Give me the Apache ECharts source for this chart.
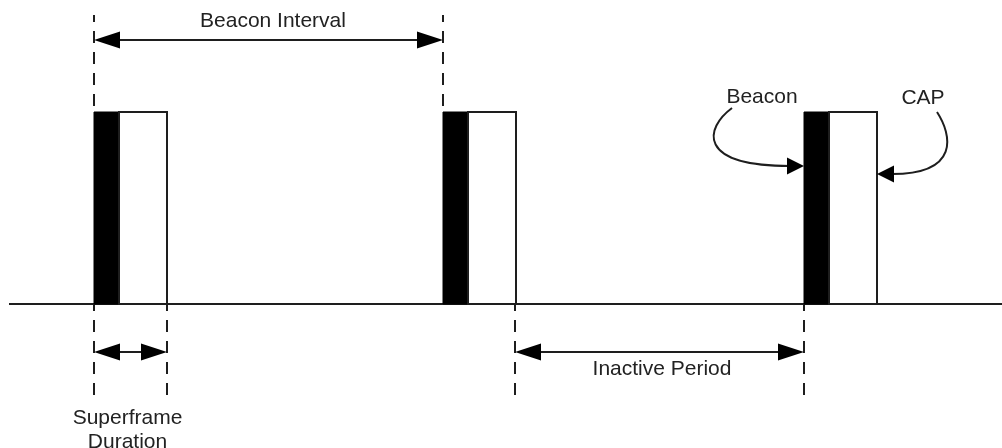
<!DOCTYPE html>
<html><head><meta charset="utf-8">
<script src="https://cdn.jsdelivr.net/npm/echarts@6/dist/echarts.min.js"></script>
<style>html,body{margin:0;padding:0;background:#fff}#c{width:1002px;height:448px}</style>
</head><body><div id="c"></div>
<script>
// Superframe timing (time units) — start of each beacon, beacon slot and superframe length
const superframeStarts = [0, 349, 710];
const beaconLength = 25;
const superframeLength = 73;
// Timeline (baseline) extent
const baselineExtent = [-85, 908];
// Dimension arrows: [from, to, level]
const dimensionArrows = [[0, 349, 1.375], [0, 73, -0.25], [421, 710, -0.25]];
// Dashed guide lines: [time, fromLevel, toLevel]
const guideLines = [[0, 1.505, 1], [349, 1.505, 1], [0, 0, -0.5], [73, 0, -0.5], [421, 0, -0.5], [710, 0, -0.5]];
// Annotation texts and their anchor [time, level]
const labelTexts = ['Beacon Interval', 'Inactive Period', 'Superframe', 'Duration'];
const labelAnchors = [[179, 1.474], [568, -0.339], [33.5, -0.594], [33.5, -0.719]];
// Callouts: text, text anchor [time, level], target [time, level]
const calloutTexts = ['Beacon', 'CAP'];
const calloutAnchors = [[668, 1.078, 710, 0.719], [829, 1.073, 783, 0.677]];

const INK = '#1e1e1e';
const FONT = '21px "Liberation Sans", Arial, sans-serif';

const chart = echarts.init(document.getElementById('c'), null, {renderer: 'canvas'});

function baseline(params, api) {
  const p1 = api.coord([api.value(0), 0]);
  const p2 = api.coord([api.value(1), 0]);
  return {type: 'line', shape: {x1: p1[0], y1: p1[1], x2: p2[0], y2: p2[1]}, style: {stroke: INK, lineWidth: 2}};
}

function blocks(params, api) {
  const s = api.value(0);
  const a = api.coord([s, 1]);
  const b = api.coord([s + beaconLength, 0]);
  const c = api.coord([s + superframeLength, 0]);
  return {type: 'group', children: [
    {type: 'rect', shape: {x: a[0], y: a[1], width: b[0] - a[0], height: b[1] - a[1]}, style: {fill: '#000', stroke: '#000', lineWidth: 1}},
    {type: 'rect', shape: {x: b[0], y: a[1], width: c[0] - b[0], height: c[1] - a[1]}, style: {fill: '#fff', stroke: INK, lineWidth: 2}}
  ]};
}

function arrowHead(tip, dir, len, half) {
  // dir: +1 pointing right, -1 pointing left
  return {type: 'polygon', shape: {points: [[tip[0], tip[1]], [tip[0] - dir * len, tip[1] - half], [tip[0] - dir * len, tip[1] + half]]}, style: {fill: '#000'}};
}

function dimension(params, api) {
  const p1 = api.coord([api.value(0), api.value(2)]);
  const p2 = api.coord([api.value(1), api.value(2)]);
  return {type: 'group', children: [
    {type: 'line', shape: {x1: p1[0] + 10, y1: p1[1], x2: p2[0] - 10, y2: p2[1]}, style: {stroke: INK, lineWidth: 2}},
    arrowHead(p1, -1, 26, 8.5),
    arrowHead(p2, 1, 26, 8.5)
  ]};
}

function guides(params, api) {
  const p1 = api.coord([api.value(0), api.value(1)]);
  const p2 = api.coord([api.value(0), api.value(2)]);
  return {type: 'line', shape: {x1: p1[0], y1: p1[1], x2: p2[0], y2: p2[1]}, style: {stroke: INK, lineWidth: 2, lineDash: [12, 9], lineDashOffset: 5}};
}

function labels(params, api) {
  const p = api.coord([api.value(0), api.value(1)]);
  return {type: 'text', x: p[0], y: p[1], style: {text: labelTexts[params.dataIndex], font: FONT, fill: '#222', align: 'center', verticalAlign: 'middle'}};
}

function callouts(params, api) {
  const L = api.coord([api.value(0), api.value(1)]);
  const T = api.coord([api.value(2), api.value(3)]);
  let p0, p1, p2, p3, dir;
  if (params.dataIndex === 0) {
    p0 = [L[0] - 30, L[1] + 11]; p1 = [p0[0] - 27, p0[1] + 20];
    p3 = [T[0] - 16, T[1]]; p2 = [p3[0] - 92, p3[1]]; dir = 1;
  } else {
    p0 = [L[0] + 14, L[1] + 14]; p1 = [p0[0] + 15, p0[1] + 23];
    p3 = [T[0] + 17, T[1]]; p2 = [p3[0] + 66, p3[1]]; dir = -1;
  }
  return {type: 'group', children: [
    {type: 'text', x: L[0], y: L[1], style: {text: calloutTexts[params.dataIndex], font: FONT, fill: '#222', align: 'center', verticalAlign: 'middle'}},
    {type: 'bezierCurve', shape: {x1: p0[0], y1: p0[1], cpx1: p1[0], cpy1: p1[1], cpx2: p2[0], cpy2: p2[1], x2: p3[0] + dir * 2, y2: p3[1]}, style: {stroke: INK, lineWidth: 2, fill: null}},
    arrowHead(T, dir, 17, 8.5)
  ]};
}

chart.setOption({
  animation: false,
  backgroundColor: '#fff',
  grid: {left: 94, right: 125, top: 112, bottom: 144},
  xAxis: {type: 'value', min: 0, max: 783, show: false},
  yAxis: {type: 'value', min: 0, max: 1, show: false},
  series: [
    {type: 'custom', renderItem: baseline, data: [baselineExtent], clip: false, silent: true, z: 1},
    {type: 'custom', renderItem: guides, data: guideLines, clip: false, silent: true, z: 2},
    {type: 'custom', renderItem: blocks, data: superframeStarts.map(s => [s]), clip: false, silent: true, z: 3},
    {type: 'custom', renderItem: dimension, data: dimensionArrows, clip: false, silent: true, z: 4},
    {type: 'custom', renderItem: labels, data: labelAnchors, clip: false, silent: true, z: 5},
    {type: 'custom', renderItem: callouts, data: calloutAnchors, clip: false, silent: true, z: 5}
  ]
});
</script></body></html>
